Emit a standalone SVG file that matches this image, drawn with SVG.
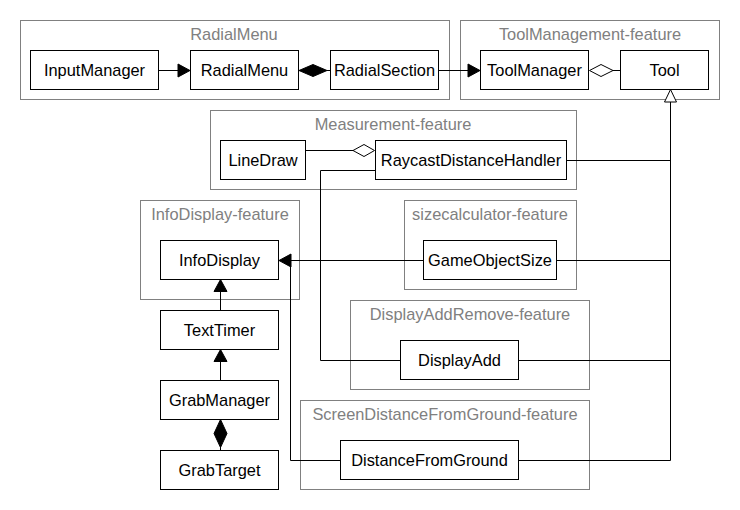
<svg xmlns="http://www.w3.org/2000/svg" width="740" height="510" viewBox="0 0 740 510">
<style>
.pkg{fill:none;stroke:#808080;stroke-width:1}
.pt{font-family:"Liberation Sans",Arial,sans-serif;font-size:16.4px;fill:#808080;text-anchor:middle}
.nd{fill:#fff;stroke:#000;stroke-width:1}
.nt{font-family:"Liberation Sans",Arial,sans-serif;font-size:16.4px;fill:#000;text-anchor:middle}
.ln{fill:none;stroke:#000;stroke-width:1}
.fa{fill:#000;stroke:#000;stroke-width:1}
.ha{fill:#fff;stroke:#000;stroke-width:1}
</style>
<rect width="740" height="510" fill="#fff"/>
<g id="pkg-radialmenu"><rect class="pkg" x="20.5" y="20.5" width="429" height="79"/><text class="pt" x="234" y="40">RadialMenu</text></g>
<g id="pkg-toolmanagement"><rect class="pkg" x="460.5" y="20.5" width="259" height="79"/><text class="pt" x="590" y="40">ToolManagement-feature</text></g>
<g id="pkg-measurement"><rect class="pkg" x="210.5" y="110.5" width="366" height="79"/><text class="pt" x="393" y="130">Measurement-feature</text></g>
<g id="pkg-infodisplay"><rect class="pkg" x="140.5" y="200.5" width="159" height="99"/><text class="pt" x="220" y="220">InfoDisplay-feature</text></g>
<g id="pkg-sizecalculator"><rect class="pkg" x="404.5" y="200.5" width="172" height="89"/><text class="pt" x="490" y="220">sizecalculator-feature</text></g>
<g id="pkg-displayaddremove"><rect class="pkg" x="350.5" y="300.5" width="239" height="89"/><text class="pt" x="470" y="320">DisplayAddRemove-feature</text></g>
<g id="pkg-screendistance"><rect class="pkg" x="300.5" y="400.5" width="289" height="89"/><text class="pt" x="445" y="420">ScreenDistanceFromGround-feature</text></g>
<g id="connectors">
<path class="ln" d="M159,70.5H179"/><polygon class="fa" points="190,70.5 178,64 178,77"/>
<path class="ln" d="M327,70.5H330"/><polygon class="fa" points="299,70.5 313,64.5 327,70.5 313,76.5"/>
<path class="ln" d="M439,70.5H469"/><polygon class="fa" points="480,70.5 468,64 468,77"/>
<path class="ln" d="M613,70.5H620"/><polygon class="ha" points="589.5,70.5 601,64.5 613,70.5 601,76.5"/>
<path class="ln" d="M670.5,102V460.5H519M567,160.5H670.5M557,260.5H670.5M519,360.5H670.5"/>
<polygon class="ha" points="670.5,89.5 664.5,102 676.5,102"/>
<path class="ln" d="M306,150.5H353"/><polygon class="ha" points="374.5,150.5 364,144.5 353,150.5 364,156.5"/>
<path class="ln" d="M375,170.5H320.5V360.5H400"/>
<path class="ln" d="M423,260.5H290"/><polygon class="fa" points="279,260.5 291,254 291,267"/>
<path class="ln" d="M340,460.5H290.5V262"/>
<path class="ln" d="M220.5,310V290"/><polygon class="fa" points="220.5,279.5 214,291.5 227,291.5"/>
<path class="ln" d="M220.5,380V360"/><polygon class="fa" points="220.5,349.5 214,361.5 227,361.5"/>
<path class="ln" d="M220.5,447V450"/><polygon class="fa" points="220.5,419.5 227,433.5 220.5,447.5 214,433.5"/>
</g>
<g id="InputManager"><rect class="nd" x="30.5" y="50.5" width="128" height="39"/><text class="nt" x="94.5" y="76">InputManager</text></g>
<g id="RadialMenu"><rect class="nd" x="190.5" y="50.5" width="108" height="39"/><text class="nt" x="244.5" y="76">RadialMenu</text></g>
<g id="RadialSection"><rect class="nd" x="330.5" y="50.5" width="108" height="39"/><text class="nt" x="384.5" y="76">RadialSection</text></g>
<g id="ToolManager"><rect class="nd" x="480.5" y="50.5" width="108" height="39"/><text class="nt" x="534.5" y="76">ToolManager</text></g>
<g id="Tool"><rect class="nd" x="620.5" y="50.5" width="88" height="39"/><text class="nt" x="664.5" y="76">Tool</text></g>
<g id="LineDraw"><rect class="nd" x="220.5" y="140.5" width="85" height="39"/><text class="nt" x="263" y="166">LineDraw</text></g>
<g id="RaycastDistanceHandler"><rect class="nd" x="375.5" y="140.5" width="191" height="39"/><text class="nt" x="471" y="166">RaycastDistanceHandler</text></g>
<g id="InfoDisplay"><rect class="nd" x="160.5" y="240.5" width="118" height="39"/><text class="nt" x="219.5" y="266">InfoDisplay</text></g>
<g id="GameObjectSize"><rect class="nd" x="423.5" y="240.5" width="133" height="39"/><text class="nt" x="490" y="266">GameObjectSize</text></g>
<g id="TextTimer"><rect class="nd" x="160.5" y="310.5" width="118" height="39"/><text class="nt" x="219.5" y="336">TextTimer</text></g>
<g id="DisplayAdd"><rect class="nd" x="400.5" y="340.5" width="118" height="39"/><text class="nt" x="459.5" y="366">DisplayAdd</text></g>
<g id="GrabManager"><rect class="nd" x="160.5" y="380.5" width="118" height="39"/><text class="nt" x="219.5" y="406">GrabManager</text></g>
<g id="DistanceFromGround"><rect class="nd" x="340.5" y="440.5" width="178" height="39"/><text class="nt" x="429.5" y="466">DistanceFromGround</text></g>
<g id="GrabTarget"><rect class="nd" x="160.5" y="450.5" width="118" height="39"/><text class="nt" x="219.5" y="476">GrabTarget</text></g>
</svg>
